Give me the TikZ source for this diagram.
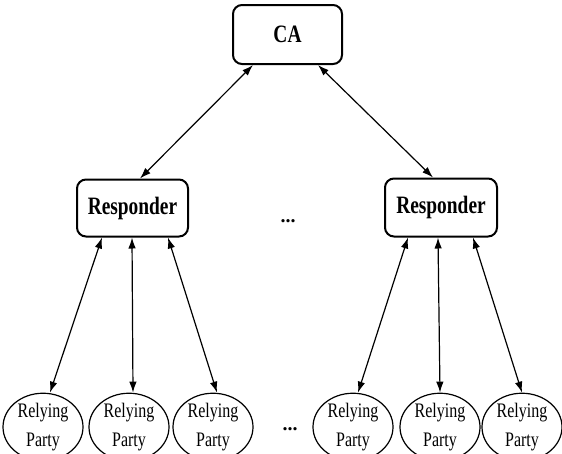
\documentclass[tikz,border=0pt]{standalone}
\usepackage{fontspec}
\usepackage{graphicx}
\setmainfont{Liberation Serif}
\usetikzlibrary{shapes.geometric,arrows.meta}
% narrow, tall lettering
\newcommand\tallword[1]{\scalebox{0.97}[1.25]{#1}}
\begin{document}
\begin{tikzpicture}[x=1pt,y=-1pt,
  server/.style={draw,line width=2pt,rounded corners=9pt,inner sep=0pt,
    font=\fontsize{20}{24}\selectfont\bfseries},
  party/.style={draw,ellipse,line width=1.2pt,inner sep=0pt,
    minimum width=80pt,minimum height=53pt,align=center,
    font=\fontsize{16.5}{29}\selectfont},
  link/.style={line width=1.2pt,
    {Latex[length=11pt,width=7.5pt]}-{Latex[length=11pt,width=7.5pt]}},
  gap/.style={font=\fontsize{20}{24}\selectfont\bfseries}]
\useasboundingbox (0,0) rectangle (562,453);

% certificate authority and the two responders
\node[server,minimum width=109pt,minimum height=59pt] (ca) at (287.5,34.5) {\tallword{CA}};
\node[server,minimum width=111pt,minimum height=57pt] (respL) at (132.5,208) {\tallword{Responder}};
\node[server,minimum width=112pt,minimum height=58pt] (respR) at (441,207.5) {\tallword{Responder}};
\node[gap] (dotsMid) at (288,221) {...};

% relying parties
\node[party] (rp1) at (43,427) {\tallword{Relying}\\\tallword{Party}};
\node[party] (rp2) at (129,427) {\tallword{Relying}\\\tallword{Party}};
\node[party] (rp3) at (213,427) {\tallword{Relying}\\\tallword{Party}};
\node[party] (rp4) at (353,427) {\tallword{Relying}\\\tallword{Party}};
\node[party] (rp5) at (440,427) {\tallword{Relying}\\\tallword{Party}};
\node[party] (rp6) at (522,427) {\tallword{Relying}\\\tallword{Party}};
\node[gap] (dotsLow) at (290,429) {...};

% CA <-> responders
\draw[link] ([xshift=-34.5pt]ca.south) -- ([xshift=7.5pt]respL.north);
\draw[link] ([xshift=30.5pt]ca.south) -- ([xshift=-8pt]respR.north);

% responders <-> relying parties
\draw[link] ([xshift=-30.5pt]respL.south) -- ([xshift=7pt]rp1.north);
\draw[link] ([xshift=-0.5pt]respL.south) -- ([xshift=4pt]rp2.north);
\draw[link] ([xshift=35.5pt]respL.south) -- ([xshift=4pt]rp3.north);
\draw[link] ([xshift=-33pt]respR.south) -- ([xshift=5pt]rp4.north);
\draw[link] ([xshift=-3pt]respR.south) -- (rp5.north);
\draw[link] ([xshift=32pt]respR.south) -- (rp6.north);
\end{tikzpicture}
\end{document}
